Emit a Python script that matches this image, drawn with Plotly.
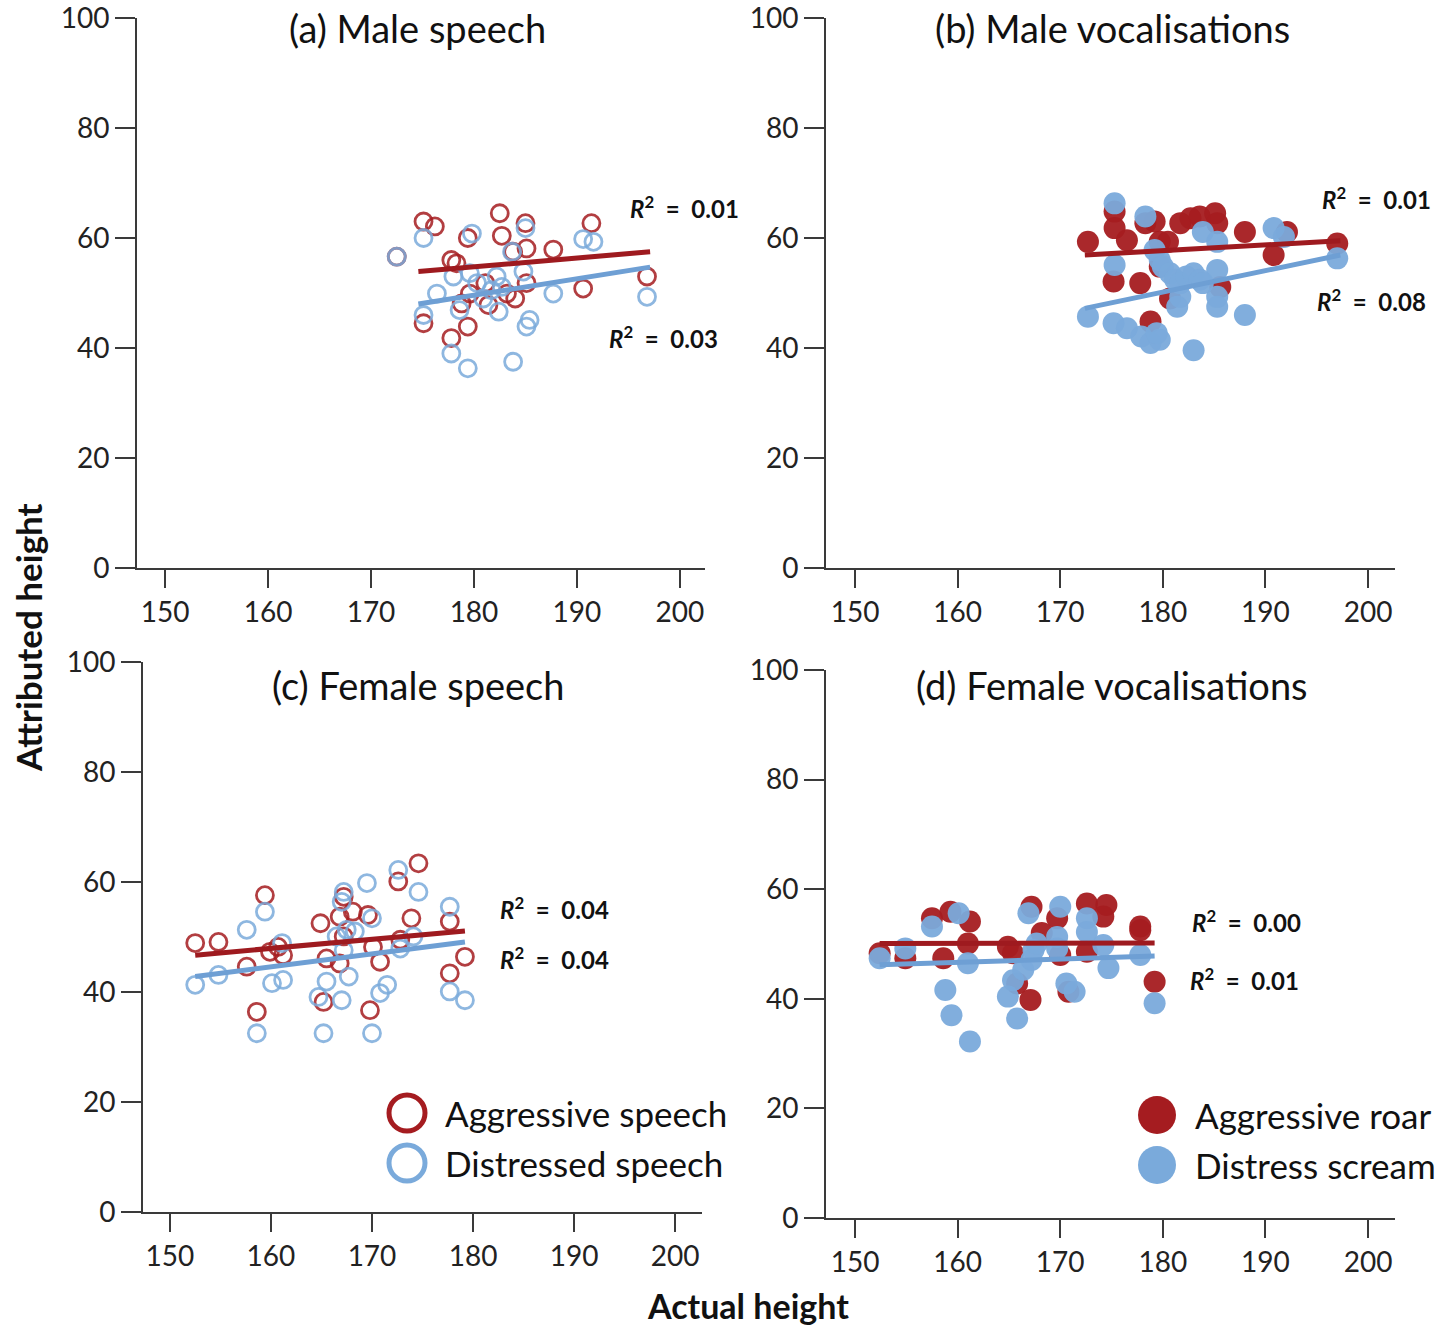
import plotly.graph_objects as go

W, H = 1451, 1327
FONT = "Lato"
RED = "#A51C20"
BLUE = "#7AAADB"
RED_LINE = "#9E1A1F"
BLUE_LINE = "#6E9FD4"

# ---------------- data ----------------
# (a) Male speech
a_red_x = [175.1, 176.2, 182.5, 179.4, 182.7, 185.0, 185.1, 187.7, 191.4, 183.8, 177.8, 178.3, 196.8,
           190.6, 185.1, 181.1, 179.6, 183.2, 184.0, 181.4, 178.8, 175.1, 179.4, 177.8, 172.5]
a_red_y = [63.0, 62.1, 64.5, 60.0, 60.4, 62.7, 58.1, 57.9, 62.7, 57.5, 56.0, 55.4, 53.0,
           50.8, 51.8, 51.8, 49.9, 49.9, 49.0, 47.8, 48.1, 44.5, 43.9, 41.8, 56.6]
a_blue_x = [175.1, 179.8, 185.0, 190.6, 191.6, 183.7, 172.5, 184.8, 178.0, 179.6, 180.3, 182.2, 182.7,
            181.7, 180.9, 176.4, 187.7, 196.8, 175.1, 178.6, 182.4, 185.4, 185.1, 177.8, 179.4, 183.8]
a_blue_y = [60.0, 60.8, 61.8, 59.8, 59.3, 57.5, 56.6, 53.9, 53.0, 53.6, 51.8, 53.0, 51.1,
            50.5, 49.0, 49.9, 49.9, 49.3, 46.0, 46.9, 46.6, 45.1, 43.9, 39.0, 36.3, 37.5]
a_fit_x = [174.6, 197.1]
a_fit_red = [53.9, 57.5]
a_fit_blue = [48.0, 54.7]

# (b) Male vocalisations
b_red_x = [172.7, 175.3, 175.3, 176.5, 175.2, 177.8, 178.8, 178.3, 179.2, 179.7, 180.5, 181.7, 182.7,
           183.6, 185.1, 185.3, 188.0, 190.8, 192.1, 197.0, 180.7, 185.6, 179.7]
b_red_y = [59.3, 64.8, 61.8, 59.6, 52.1, 51.8, 44.8, 62.7, 63.0, 59.3, 59.3, 62.7, 63.6,
           63.9, 64.5, 62.7, 61.1, 56.9, 61.1, 59.0, 49.0, 51.1, 54.8]
b_blue_x = [175.3, 178.3, 175.3, 172.7, 175.2, 176.5, 177.9, 178.8, 179.7, 179.4, 183.0, 188.0, 185.3,
            185.3, 185.3, 183.9, 185.3, 190.8, 191.8, 197.0, 179.2, 179.7, 180.0, 180.7, 181.2, 181.7,
            182.3, 183.0, 183.6, 181.7, 181.4, 183.9]
b_blue_y = [66.3, 63.9, 55.1, 45.7, 44.5, 43.6, 42.1, 40.9, 41.5, 42.7, 39.6, 46.0, 47.5,
            49.3, 54.2, 61.1, 59.3, 61.8, 60.2, 56.3, 57.8, 56.0, 54.8, 53.6, 52.4, 51.8,
            53.0, 53.6, 52.4, 49.3, 47.5, 51.8]
b_fit_x = [172.4, 197.3]
b_fit_red = [56.9, 59.5]
b_fit_blue = [47.2, 56.9]

# (c) Female speech
c_red_x = [152.5, 154.8, 157.6, 159.4, 158.6, 159.9, 161.2, 160.7, 164.9, 165.2, 165.5, 166.8, 167.2,
           168.1, 169.6, 167.2, 166.8, 169.8, 170.8, 170.1, 172.6, 174.6, 173.9, 172.8, 177.7, 177.7, 179.2]
c_red_y = [48.9, 49.1, 44.6, 57.6, 36.4, 47.3, 46.7, 48.2, 52.5, 38.2, 46.1, 53.7, 57.3,
           54.6, 54.0, 50.1, 45.2, 36.7, 45.5, 48.2, 60.1, 63.4, 53.4, 49.5, 52.8, 43.4, 46.4]
c_blue_x = [152.5, 154.8, 157.6, 159.4, 158.6, 160.1, 161.2, 161.1, 165.5, 164.7, 165.2, 167.0, 167.2,
            167.0, 166.5, 167.5, 168.3, 167.2, 167.7, 169.5, 170.0, 170.0, 170.8, 171.5, 172.8, 172.6,
            174.1, 174.6, 177.7, 177.7, 179.2]
c_blue_y = [41.3, 43.1, 51.3, 54.6, 32.5, 41.6, 42.2, 48.9, 41.9, 39.1, 32.5, 38.5, 58.2,
            56.4, 50.1, 51.3, 51.0, 47.6, 42.8, 59.8, 53.4, 32.5, 39.8, 41.3, 47.9, 62.2,
            50.1, 58.2, 55.5, 40.1, 38.5]
c_fit_x = [152.5, 179.2]
c_fit_red = [46.7, 51.1]
c_fit_blue = [42.8, 49.1]

# (d) Female vocalisations
d_red_x = [152.4, 154.9, 157.5, 159.3, 161.2, 161.0, 158.6, 164.9, 165.4, 165.8, 167.1, 167.2, 169.7,
           168.2, 170.0, 170.8, 172.6, 174.5, 174.2, 172.6, 177.8, 177.8, 179.2]
d_red_y = [48.3, 47.4, 54.7, 55.9, 54.1, 50.1, 47.4, 49.5, 48.3, 42.8, 39.8, 56.8, 54.7,
           52.0, 48.0, 41.3, 57.4, 57.1, 55.0, 48.6, 53.2, 52.5, 43.1]
d_blue_x = [152.4, 154.9, 157.5, 160.1, 161.0, 158.8, 159.4, 161.2, 164.9, 165.8, 165.4, 166.4, 167.2,
            167.4, 167.7, 166.9, 170.0, 169.7, 169.7, 171.4, 172.6, 172.6, 174.2, 174.7, 177.8, 179.2, 170.6]
d_blue_y = [47.4, 49.2, 53.2, 55.6, 46.5, 41.6, 37.0, 32.2, 40.4, 36.4, 43.4, 45.3, 47.1,
            48.9, 50.1, 55.6, 56.8, 51.3, 49.2, 41.3, 54.7, 52.2, 49.8, 45.6, 48.0, 39.2, 42.8]
d_fit_x = [152.4, 179.2]
d_fit_red = [50.1, 50.2]
d_fit_blue = [46.2, 47.8]

panel_titles = ["(a) Male speech", "(b) Male vocalisations", "(c) Female speech", "(d) Female vocalisations"]
r2_labels = [["0.01", "0.03"], ["0.01", "0.08"], ["0.04", "0.04"], ["0.00", "0.01"]]
x_ticks = [150, 160, 170, 180, 190, 200]
y_ticks = [0, 20, 40, 60, 80, 100]
legend_speech = ["Aggressive speech", "Distressed speech"]
legend_vocal = ["Aggressive roar", "Distress scream"]
x_title = "Actual height"
y_title = "Attributed height"

# ---------------- layout geometry (pixels) ----------------
def px(x):
    return x / W


def py(y):
    return 1 - y / H

# left, right, top(y=100), bottom(y=0), x-range
panels = [
    dict(l=137, r=705, t=18, b=568, xr=[147.28, 202.43]),
    dict(l=826, r=1395, t=18, b=568, xr=[147.17, 202.63]),
    dict(l=143, r=702, t=662, b=1212, xr=[147.33, 202.67]),
    dict(l=826, r=1395, t=670, b=1218, xr=[147.17, 202.63]),
]

fig = go.Figure()

sets = [
    (a_red_x, a_red_y, a_blue_x, a_blue_y, a_fit_x, a_fit_red, a_fit_blue, False),
    (b_red_x, b_red_y, b_blue_x, b_blue_y, b_fit_x, b_fit_red, b_fit_blue, True),
    (c_red_x, c_red_y, c_blue_x, c_blue_y, c_fit_x, c_fit_red, c_fit_blue, False),
    (d_red_x, d_red_y, d_blue_x, d_blue_y, d_fit_x, d_fit_red, d_fit_blue, True),
]

for i, (rx, ry, bx, by, fx, fr, fb, filled) in enumerate(sets):
    sfx = "" if i == 0 else str(i + 1)
    xa, ya = "x" + sfx, "y" + sfx
    if filled:
        mk_r = dict(symbol="circle", size=22, color=RED, opacity=0.95)
        mk_b = dict(symbol="circle", size=22, color=BLUE, opacity=0.95)
    else:
        mk_r = dict(symbol="circle-open", size=17, color=RED, line=dict(width=2.8, color=RED), opacity=0.85)
        mk_b = dict(symbol="circle-open", size=17, color=BLUE, line=dict(width=2.8, color=BLUE), opacity=0.85)
    fig.add_trace(go.Scatter(x=rx, y=ry, mode="markers", marker=mk_r, xaxis=xa, yaxis=ya, showlegend=False))
    fig.add_trace(go.Scatter(x=bx, y=by, mode="markers", marker=mk_b, xaxis=xa, yaxis=ya, showlegend=False))
    fig.add_trace(go.Scatter(x=fx, y=fr, mode="lines", line=dict(color=RED_LINE, width=5), xaxis=xa, yaxis=ya, showlegend=False))
    fig.add_trace(go.Scatter(x=fx, y=fb, mode="lines", line=dict(color=BLUE_LINE, width=5), xaxis=xa, yaxis=ya, showlegend=False))

axis_common = dict(showline=True, linecolor="#3a3a3a", linewidth=2, ticks="outside", ticklen=18, tickwidth=2,
                   tickcolor="#3a3a3a", showgrid=False, zeroline=False, automargin=False,
                   ticklabeloverflow="allow",
                   tickfont=dict(family=FONT, size=28, color="#222"))
layout = dict(width=W, height=H, margin=dict(l=0, r=0, t=0, b=0, autoexpand=False), plot_bgcolor="white",
              paper_bgcolor="white", showlegend=False)
for i, p in enumerate(panels):
    sfx = "" if i == 0 else str(i + 1)
    layout["xaxis" + sfx] = dict(axis_common, domain=[px(p["l"]), px(p["r"])], range=p["xr"], tickvals=x_ticks,
                                 anchor="y" + sfx, ticklabelstandoff=0)
    layout["yaxis" + sfx] = dict(axis_common, domain=[py(p["b"]), py(p["t"])], range=[0, 100], tickvals=y_ticks,
                                 anchor="x" + sfx, ticklen=20)
fig.update_layout(**layout)

ann = []
title_pos = [(418, 28), (1112, 28), (418, 685), (1112, 685)]
for (x, y), t in zip(title_pos, panel_titles):
    ann.append(dict(x=px(x), y=py(y), xref="paper", yref="paper", text=t, showarrow=False,
                    font=dict(family=FONT, size=38, color="#111"), xanchor="center", yanchor="middle"))

r2_pos = [[(628, 207), (607, 337)], [(1320, 198), (1315, 300)], [(498, 908), (498, 958)], [(1190, 921), (1188, 979)]]
for pos, labs in zip(r2_pos, r2_labels):
    for (x, y), v in zip(pos, labs):
        ann.append(dict(x=px(x), y=py(y), xref="paper", yref="paper",
                        text="<b><i>R</i><sup>2</sup>  =  " + v + "</b>", showarrow=False,
                        font=dict(family=FONT, size=24, color="#111"), xanchor="left", yanchor="middle"))

ann.append(dict(x=px(748), y=py(1305), xref="paper", yref="paper", text="<b>" + x_title + "</b>", showarrow=False,
                font=dict(family=FONT, size=34, color="#111"), xanchor="center", yanchor="middle"))
ann.append(dict(x=px(28), y=py(638), xref="paper", yref="paper", text="<b>" + y_title + "</b>", showarrow=False,
                textangle=-90, font=dict(family=FONT, size=35, color="#111"), xanchor="center", yanchor="middle"))

# legends
leg_rows = [(1113, RED), (1163, BLUE)]
shapes = []
for (y, col), lab in zip(leg_rows, legend_speech):
    shapes.append(dict(type="circle", xref="paper", yref="paper", x0=px(389), x1=px(425), y0=py(y + 18), y1=py(y - 18),
                       line=dict(color=col, width=5), fillcolor="rgba(0,0,0,0)"))
    ann.append(dict(x=px(443), y=py(y), xref="paper", yref="paper", text=lab, showarrow=False,
                    font=dict(family=FONT, size=35, color="#111"), xanchor="left", yanchor="middle"))
leg_rows_d = [(1115, RED), (1165, BLUE)]
for (y, col), lab in zip(leg_rows_d, legend_vocal):
    shapes.append(dict(type="circle", xref="paper", yref="paper", x0=px(1138), x1=px(1176), y0=py(y + 19), y1=py(y - 19),
                       line=dict(color=col, width=0), fillcolor=col))
    ann.append(dict(x=px(1193), y=py(y), xref="paper", yref="paper", text=lab, showarrow=False,
                    font=dict(family=FONT, size=35, color="#111"), xanchor="left", yanchor="middle"))

fig.update_layout(annotations=ann, shapes=shapes)
fig.write_html("out.html")
